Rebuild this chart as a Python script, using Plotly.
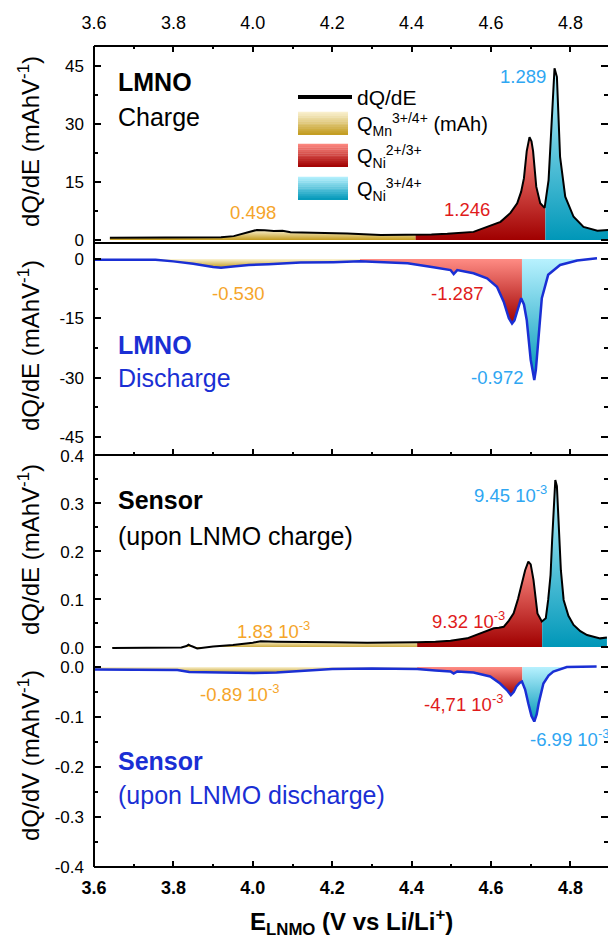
import numpy as np
import plotly.graph_objects as go

# ---------------------------------------------------------------------------
# Differential capacity curves, E in V vs Li/Li+
# ---------------------------------------------------------------------------
# LMNO electrode, charge (dQ/dE, mAh V^-1)
E_lmno_chg = [3.640, 3.700, 3.760, 3.820, 3.880, 3.920, 3.952, 3.986, 4.010, 4.030,
              4.053, 4.075, 4.095, 4.153, 4.238, 4.322, 4.405, 4.450, 4.490, 4.530,
              4.556, 4.590, 4.624, 4.649, 4.666, 4.676, 4.683, 4.690, 4.697, 4.702,
              4.706, 4.714, 4.724, 4.735, 4.745, 4.750, 4.754, 4.760, 4.766, 4.770,
              4.774, 4.787, 4.808, 4.833, 4.868, 4.895]
dQdE_lmno_chg = [0.6, 0.6, 0.6, 0.6, 0.6, 0.7, 1.0, 1.9, 2.6, 2.5,
                 2.3, 2.4, 2.0, 1.9, 1.7, 1.3, 1.3, 1.4, 1.6, 1.9,
                 2.1, 3.4, 4.7, 7.0, 9.5, 12.5, 16.0, 23.0, 26.6, 25.5,
                 23.0, 13.8, 9.5, 8.3, 15.5, 25.0, 34.5, 44.4, 42.2, 32.0,
                 21.5, 11.2, 6.0, 3.4, 2.4, 2.6]

# LMNO electrode, discharge (dQ/dE, mAh V^-1)
E_lmno_dis = [3.600, 3.650, 3.700, 3.755, 3.800, 3.850, 3.900, 3.920, 3.950, 3.990,
              4.040, 4.080, 4.120, 4.203, 4.270, 4.330, 4.390, 4.455, 4.498, 4.506,
              4.515, 4.556, 4.590, 4.615, 4.632, 4.645, 4.653, 4.659, 4.664, 4.670,
              4.676, 4.683, 4.690, 4.700, 4.709, 4.713, 4.717, 4.728, 4.744, 4.774,
              4.817, 4.867]
dQdE_lmno_dis = [-0.2, -0.2, -0.2, -0.2, -0.6, -1.2, -2.0, -2.2, -1.9, -1.5,
                 -1.3, -1.1, -0.9, -0.8, -0.6, -0.8, -1.1, -2.1, -2.8, -3.8,
                 -2.8, -3.6, -4.9, -7.0, -10.8, -15.0, -16.3, -15.5, -13.7, -11.5,
                 -9.9, -11.5, -15.4, -25.5, -30.6, -28.0, -23.0, -9.9, -4.0, -1.5,
                 -0.4, 0.2]

# Sensor, upon LNMO charge (dQ/dE, mAh V^-1)
E_sens_chg = [3.646, 3.700, 3.760, 3.820, 3.833, 3.838, 3.845, 3.860, 3.900, 3.950,
              4.000, 4.020, 4.060, 4.120, 4.200, 4.288, 4.350, 4.414, 4.460, 4.498,
              4.540, 4.573, 4.590, 4.607, 4.620, 4.632, 4.645, 4.657, 4.668, 4.678,
              4.686, 4.694, 4.700, 4.707, 4.717, 4.728, 4.738, 4.744, 4.750, 4.754,
              4.758, 4.762, 4.766, 4.770, 4.776, 4.783, 4.795, 4.808, 4.825, 4.842,
              4.875, 4.892]
dQdE_sens_chg = [-0.002, -0.002, -0.002, -0.001, 0.002, 0.005, 0.002, -0.003, 0.001, 0.004,
                 0.009, 0.012, 0.011, 0.010, 0.010, 0.009, 0.009, 0.010, 0.011, 0.013,
                 0.018, 0.029, 0.034, 0.039, 0.040, 0.042, 0.055, 0.070, 0.100, 0.133,
                 0.160, 0.178, 0.172, 0.140, 0.070, 0.053, 0.060, 0.098, 0.150, 0.223,
                 0.300, 0.348, 0.335, 0.260, 0.160, 0.098, 0.065, 0.046, 0.033, 0.025,
                 0.018, 0.020]

# Sensor, upon LNMO discharge (dQ/dV, mAh V^-1)
E_sens_dis = [3.600, 3.700, 3.810, 3.840, 3.900, 3.950, 4.000, 4.060, 4.120, 4.200,
              4.300, 4.414, 4.460, 4.498, 4.506, 4.515, 4.556, 4.598, 4.623, 4.640,
              4.650, 4.657, 4.664, 4.672, 4.678, 4.686, 4.694, 4.702, 4.709, 4.715,
              4.720, 4.732, 4.745, 4.757, 4.791, 4.830, 4.866]
dQdV_sens_dis = [-0.005, -0.005, -0.006, -0.010, -0.011, -0.012, -0.012, -0.011, -0.008, -0.004,
                 -0.003, -0.004, -0.007, -0.009, -0.013, -0.009, -0.011, -0.019, -0.033, -0.046,
                 -0.056, -0.050, -0.039, -0.032, -0.029, -0.045, -0.073, -0.098, -0.109, -0.095,
                 -0.073, -0.033, -0.017, -0.009, 0.000, 0.001, 0.001]

# Integration limits separating Mn3+/4+, Ni2+/3+ and Ni3+/4+ regions
split_lmno_chg = [4.410, 4.737]
split_lmno_dis = [4.270, 4.678]
split_sens_chg = [4.414, 4.729]
split_sens_dis = [4.414, 4.679]

# Integrated charge of each region (Mn3+/4+, Ni2+/3+, Ni3+/4+), mAh
q_lmno_chg = ["0.498", "1.246", "1.289"]
q_lmno_dis = ["-0.530", "-1.287", "-0.972"]
q_sens_chg = ["1.83 10<sup>-3</sup>", "9.32 10<sup>-3</sup>", "9.45 10<sup>-3</sup>"]
q_sens_dis = ["-0.89 10<sup>-3</sup>", "-4,71 10<sup>-3</sup>", "-6.99 10<sup>-3</sup>"]

x_tick_vals = [3.6, 3.8, 4.0, 4.2, 4.4, 4.6, 4.8]
y_ticks_lmno_chg = [0, 15, 30, 45]
y_ticks_lmno_dis = [-45, -30, -15, 0]
y_ticks_sens_chg = [0.0, 0.1, 0.2, 0.3, 0.4]
y_ticks_sens_dis = [-0.4, -0.3, -0.2, -0.1, 0.0]

# ---------------------------------------------------------------------------
# Geometry and styling
# ---------------------------------------------------------------------------
W, H = 608, 947
ML, MR, MT, MB = 94, 0, 46, 80
PW, PH = W - ML - MR, H - MT - MB
PX_PER_V = 397.0
X_RANGE = [3.6, 3.6 + PW / PX_PER_V]

FONT = "Liberation Sans, Arial, sans-serif"
BLACK = "#000000"
BLUE = "#1a2fd4"
C_MN, C_NI23, C_NI34 = "#f5a52a", "#e01b1b", "#2ea6f2"

# (dark, light) ends of each region's vertical gradient
GRAD = [("#c29a1c", "#fbf3d4"), ("#a00000", "#ff8c84"), ("#0097b8", "#b9f2ff")]


def fx(px):
    return (px - ML) / PW


def fy(py):
    return (MT + PH - py) / PH


def blend(c1, c2, t):
    a = [int(c1[i:i + 2], 16) for i in (1, 3, 5)]
    b = [int(c2[i:i + 2], 16) for i in (1, 3, 5)]
    return "rgb({},{},{})".format(*[round(a[k] + (b[k] - a[k]) * t) for k in range(3)])


def segment(E, Q, lo, hi):
    E = np.asarray(E, dtype=float)
    Q = np.asarray(Q, dtype=float)
    inside = (E > lo) & (E < hi)
    xs = np.concatenate([[lo], E[inside], [hi]])
    ys = np.concatenate([[np.interp(lo, E, Q)], Q[inside], [np.interp(hi, E, Q)]])
    return xs, ys


fig = go.Figure()

panels = [
    # E, Q, splits, line colour, line width, axis suffix
    (E_lmno_chg, dQdE_lmno_chg, split_lmno_chg, BLACK, 2.0, ""),
    (E_lmno_dis, dQdE_lmno_dis, split_lmno_dis, BLUE, 2.5, "2"),
    (E_sens_chg, dQdE_sens_chg, split_sens_chg, BLACK, 2.0, "3"),
    (E_sens_dis, dQdV_sens_dis, split_sens_dis, BLUE, 2.5, "4"),
]

for E, Q, splits, lc, lw, sfx in panels:
    edges = [E[0]] + list(splits) + [E[-1]]
    for k in range(3):
        xs, ys = segment(E, Q, edges[k], edges[k + 1])
        dark, light = GRAD[k]
        lo, hi = min(0.0, float(ys.min())), max(0.0, float(ys.max()))
        fig.add_trace(go.Scatter(
            x=xs, y=ys, mode="none", fill="tozeroy",
            fillgradient=dict(type="vertical", start=lo, stop=hi,
                              colorscale=[[0, dark], [1, light]]),
            xaxis="x" + sfx, yaxis="y" + sfx, hoverinfo="skip", showlegend=False))
    fig.add_trace(go.Scatter(
        x=E, y=Q, mode="lines", line=dict(color=lc, width=lw),
        xaxis="x" + sfx, yaxis="y" + sfx, showlegend=False))

# ---------------------------------------------------------------------------
# Axes
# ---------------------------------------------------------------------------
# pixel extents of each panel: (top, bottom, pixel of zero, pixels per unit)
panel_px = [(46, 243, 240.0, 3.867), (252, 455, 259.0, 3.956),
            (455, 652, 647.0, 480.0), (660, 867, 667.0, 500.0)]
y_ticks = [y_ticks_lmno_chg, y_ticks_lmno_dis, y_ticks_sens_chg, y_ticks_sens_dis]
y_fmt = ["{:g}", "{:g}", "{:.1f}", "{:.1f}"]
y_minor = [7.5, 7.5, 0.05, 0.05]
y_label_shift = [0, 0, 1, 0]   # keeps labels at the shared borders apart

tickfont = dict(family=FONT, size=18, color=BLACK)
ytickfont = dict(family=FONT, size=17, color=BLACK)
layout_axes = {}
for i, ((top, bot, zero, ppu), tv, fmt, mdt, shift) in enumerate(
        zip(panel_px, y_ticks, y_fmt, y_minor, y_label_shift)):
    sfx = "" if i == 0 else str(i + 1)
    layout_axes["yaxis" + sfx] = dict(
        domain=[fy(bot), fy(top)],
        range=[(zero - bot) / ppu, (zero - top) / ppu],
        anchor="x" + sfx, tickmode="array", tickvals=tv,
        ticktext=[fmt.format(v) for v in tv],
        ticks="inside", ticklen=7, tickwidth=1.5, tickcolor=BLACK,
        minor=dict(tickmode="linear", tick0=0, dtick=mdt, ticks="inside",
                   ticklen=4, tickwidth=1.5, tickcolor=BLACK),
        mirror="ticks", showline=False, showgrid=False, zeroline=False,
        tickfont=ytickfont, ticklabelstandoff=9, ticklabelshift=shift,
        fixedrange=True)

x_common = dict(range=X_RANGE, tickmode="array", tickvals=x_tick_vals,
                ticktext=["{:.1f}".format(v) for v in x_tick_vals],
                showgrid=False, zeroline=False, showline=False, tickcolor=BLACK,
                tickwidth=1.5, fixedrange=True)
minor_x = dict(tickmode="linear", tick0=3.6, dtick=0.1, ticks="inside", ticklen=3,
               tickwidth=1.5, tickcolor=BLACK)

layout_axes["xaxis"] = dict(x_common, anchor="y", side="top", ticks="inside", ticklen=6,
                            minor=minor_x, tickfont=tickfont, ticklabelstandoff=12)
layout_axes["xaxis2"] = dict(x_common, anchor="y2", side="bottom", ticks="inside",
                             ticklen=6, minor=minor_x, showticklabels=False, matches="x")
layout_axes["xaxis3"] = dict(x_common, anchor="y3", ticks="", showticklabels=False,
                             matches="x")
layout_axes["xaxis4"] = dict(x_common, anchor="y4", side="bottom", ticks="inside",
                             ticklen=6, minor=minor_x, matches="x",
                             tickfont=dict(family=FONT, size=18, color=BLACK, weight="bold"),
                             ticklabelstandoff=8)

# ---------------------------------------------------------------------------
# Frame lines and legend swatches
# ---------------------------------------------------------------------------
shapes = []
frame = dict(type="line", xref="paper", yref="paper", layer="above",
             line=dict(color=BLACK, width=2))
shapes.append(dict(frame, x0=0, x1=0, y0=0, y1=1))
shapes.append(dict(frame, x0=0, x1=1, y0=1, y1=1))
shapes.append(dict(frame, x0=0, x1=1, y0=0, y1=0))
shapes.append(dict(frame, x0=0, x1=1, y0=fy(243), y1=fy(243)))
shapes.append(dict(frame, x0=0, x1=1, y0=fy(455), y1=fy(455)))

# legend: line sample + three gradient boxes
shapes.append(dict(type="line", xref="paper", yref="paper", x0=fx(298), x1=fx(352),
                   y0=fy(97), y1=fy(97), line=dict(color=BLACK, width=4)))
box_tops = [112, 144, 177]
box_h, n_strip = 23, 12
for (dark, light), bt in zip(GRAD, box_tops):
    for s in range(n_strip):
        y0 = bt + box_h * s / n_strip
        y1 = bt + box_h * (s + 1) / n_strip
        col = blend(light, dark, (s + 0.5) / n_strip)
        shapes.append(dict(type="rect", xref="paper", yref="paper",
                           x0=fx(298), x1=fx(348), y0=fy(y1), y1=fy(y0 - 0.3),
                           fillcolor=col, line=dict(width=0)))

# ---------------------------------------------------------------------------
# Text
# ---------------------------------------------------------------------------
annotations = []


def ann(text, px, py, size, color, xanchor="left", angle=0):
    annotations.append(dict(text=text, x=fx(px), y=fy(py), xref="paper", yref="paper",
                            xanchor=xanchor, yanchor="middle", showarrow=False,
                            textangle=angle,
                            font=dict(family=FONT, size=size, color=color)))


ann("<b>LMNO</b>", 116, 82, 25, BLACK)
ann("Charge", 116, 117, 25, BLACK)
ann("<b>LMNO</b>", 116, 345, 25, BLUE)
ann("Discharge", 116, 378, 25, BLUE)
ann("<b>Sensor</b>", 116, 500, 25, BLACK)
ann("(upon LNMO charge)", 116, 536, 25, BLACK)
ann("<b>Sensor</b>", 116, 761, 25, BLUE)
ann("(upon LNMO discharge)", 116, 795, 25, BLUE)

ann("dQ/dE", 355, 97, 21, BLACK)
ann("Q<sub>Mn</sub><sup>3+/4+</sup> (mAh)", 355, 124, 20, BLACK)
ann("Q<sub>Ni</sub><sup>2+/3+</sup>", 355, 156, 20, BLACK)
ann("Q<sub>Ni</sub><sup>3+/4+</sup>", 355, 189, 20, BLACK)

region_cols = [C_MN, C_NI23, C_NI34]
label_pos = [
    [(253, 213, "center"), (467, 210, "center"), (523, 76, "center")],
    [(238, 293, "center"), (457, 293, "center"), (497, 377, "center")],
    [(235, 630, "left"), (430, 620, "left"), (472, 494, "left")],
    [(198, 693, "left"), (422, 703, "left"), (528, 738, "left")],
]
for labels, pos in zip([q_lmno_chg, q_lmno_dis, q_sens_chg, q_sens_dis], label_pos):
    for txt, (px, py, xa), col in zip(labels, pos, region_cols):
        ann(txt, px, py, 18.5, col, xanchor=xa)

y_titles = ["dQ/dE (mAhV<sup>-1</sup>)", "dQ/dE (mAhV<sup>-1</sup>)",
            "dQ/dE (mAhV<sup>-1</sup>)", "dQ/dV (mAhV<sup>-1</sup>)"]
for t, cy in zip(y_titles, [142, 346, 550, 756]):
    ann(t, 29, cy, 24, BLACK, xanchor="center", angle=-90)

ann("<b>E<sub>LNMO</sub> (V vs Li/Li<sup>+</sup>)</b>", 351, 922, 24, BLACK, xanchor="center")

fig.update_layout(
    width=W, height=H,
    margin=dict(l=ML, r=MR, t=MT, b=MB, pad=0),
    paper_bgcolor="white", plot_bgcolor="white",
    showlegend=False,
    font=dict(family=FONT, color=BLACK),
    shapes=shapes, annotations=annotations,
    **layout_axes,
)

fig.write_html("out.html", config={"displayModeBar": False})
